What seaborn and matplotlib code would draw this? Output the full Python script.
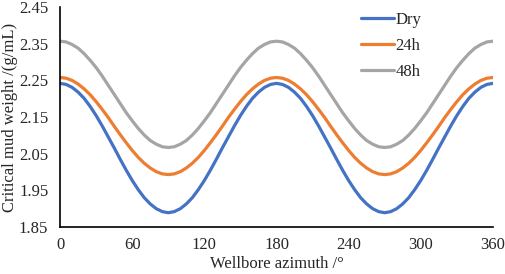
import numpy as np
import pandas as pd
import matplotlib
matplotlib.use("Agg")
import matplotlib.pyplot as plt
import seaborn as sns

# Wellbore azimuth (degrees), read every 5 degrees
azimuth = list(range(0, 361, 5))

# Critical mud weight (g/mL)
dry = [2.242, 2.239, 2.231, 2.218, 2.201, 2.179, 2.154, 2.126, 2.096, 2.066,
       2.035, 2.005, 1.977, 1.952, 1.930, 1.913, 1.900, 1.892, 1.889,
       1.892, 1.900, 1.913, 1.930, 1.952, 1.977, 2.005, 2.035, 2.066,
       2.096, 2.126, 2.154, 2.179, 2.201, 2.218, 2.231, 2.239, 2.242,
       2.239, 2.231, 2.218, 2.201, 2.179, 2.154, 2.126, 2.096, 2.066,
       2.035, 2.005, 1.977, 1.952, 1.930, 1.913, 1.900, 1.892, 1.889,
       1.892, 1.900, 1.913, 1.930, 1.952, 1.977, 2.005, 2.035, 2.066,
       2.096, 2.126, 2.154, 2.179, 2.201, 2.218, 2.231, 2.239, 2.242]
h24 = [2.258, 2.256, 2.250, 2.240, 2.227, 2.211, 2.192, 2.171, 2.149, 2.125,
       2.102, 2.080, 2.059, 2.040, 2.024, 2.011, 2.001, 1.995, 1.993,
       1.995, 2.001, 2.011, 2.024, 2.040, 2.059, 2.080, 2.102, 2.125,
       2.149, 2.171, 2.192, 2.211, 2.227, 2.240, 2.250, 2.256, 2.258,
       2.256, 2.250, 2.240, 2.227, 2.211, 2.192, 2.171, 2.149, 2.125,
       2.102, 2.080, 2.059, 2.040, 2.024, 2.011, 2.001, 1.995, 1.993,
       1.995, 2.001, 2.011, 2.024, 2.040, 2.059, 2.080, 2.102, 2.125,
       2.149, 2.171, 2.192, 2.211, 2.227, 2.240, 2.250, 2.256, 2.258]
h48 = [2.357, 2.355, 2.348, 2.338, 2.323, 2.305, 2.285, 2.262, 2.237, 2.212,
       2.187, 2.162, 2.140, 2.119, 2.101, 2.086, 2.076, 2.069, 2.067,
       2.069, 2.076, 2.086, 2.101, 2.119, 2.140, 2.162, 2.187, 2.212,
       2.237, 2.262, 2.285, 2.305, 2.323, 2.338, 2.348, 2.355, 2.357,
       2.355, 2.348, 2.338, 2.323, 2.305, 2.285, 2.262, 2.237, 2.212,
       2.187, 2.162, 2.140, 2.119, 2.101, 2.086, 2.076, 2.069, 2.067,
       2.069, 2.076, 2.086, 2.101, 2.119, 2.140, 2.162, 2.187, 2.212,
       2.237, 2.262, 2.285, 2.305, 2.323, 2.338, 2.348, 2.355, 2.357]

series_names = ["Dry", "24h", "48h"]
colors = ["#4472C4", "#ED7D31", "#A5A5A5"]
x_ticks = [0, 60, 120, 180, 240, 300, 360]
y_ticks = [1.85, 1.95, 2.05, 2.15, 2.25, 2.35, 2.45]

df = pd.DataFrame({
    "azimuth": azimuth * 3,
    "value": dry + h24 + h48,
    "series": sum([[n] * len(azimuth) for n in series_names], []),
})

sns.set_style("white")
plt.rcParams["font.family"] = ["Liberation Serif", "DejaVu Serif"]
fs = 12

fig = plt.figure(figsize=(5.05, 2.74), dpi=100)
ax = fig.add_axes([0.119, 0.1715, 0.857, 0.8025])

sns.lineplot(data=df, x="azimuth", y="value", hue="series",
             palette=colors, linewidth=2.3, ax=ax)

ax.set_xlim(0, 360)
ax.set_ylim(1.85, 2.45)
ax.set_xticks(x_ticks)
ax.set_yticks(y_ticks)
ax.set_yticklabels([f"{v:.2f}" for v in y_ticks])
ax.tick_params(axis="x", direction="in", length=4, width=1, color="black",
               labelsize=fs, pad=7)
ax.tick_params(axis="y", length=0, labelsize=fs, pad=8.5)

for side in ["top", "right"]:
    ax.spines[side].set_visible(False)
for side in ["left", "bottom"]:
    ax.spines[side].set_color("black")
    ax.spines[side].set_linewidth(1.2)

ax.set_xlabel("Wellbore azimuth /°", fontsize=fs, labelpad=2)
ax.set_ylabel("Critical mud weight /(g/mL)", fontsize=fs, labelpad=1)

ax.legend(loc="upper left", bbox_to_anchor=(0.66, 1.045), frameon=False,
          handlelength=2.0, handletextpad=0.1, labelspacing=0.6, fontsize=fs)

fig.savefig("out.png", dpi=100)
